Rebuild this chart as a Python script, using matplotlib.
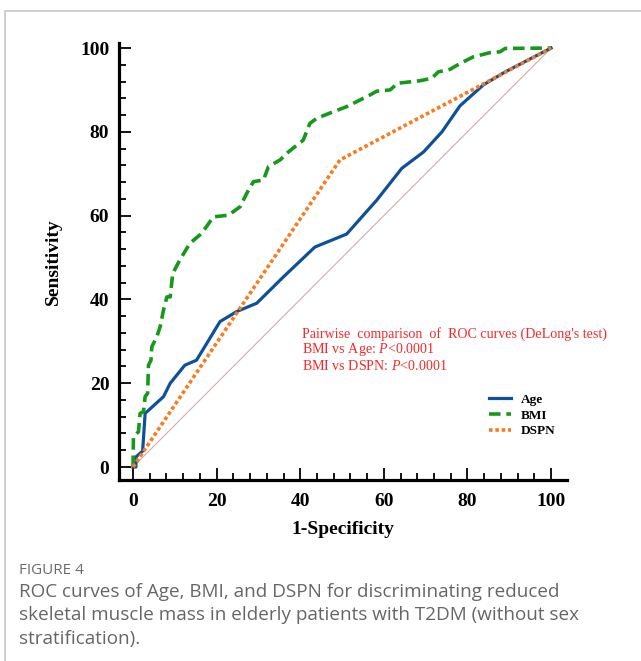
import matplotlib
matplotlib.use("Agg")
import matplotlib.pyplot as plt
from matplotlib.patches import Rectangle
from matplotlib.ticker import MultipleLocator

plt.rcParams["mathtext.fontset"] = "custom"
plt.rcParams["mathtext.rm"] = "Liberation Serif"
plt.rcParams["mathtext.it"] = "Liberation Serif:italic"

# ---- data ----
age_x = [0, 0.7, 0.7, 2.3, 2.9, 7.3, 8.9, 12.4, 15.2, 20.8, 24.8, 29.6, 36.0, 43.5, 51.1, 58.3, 64.3, 69.5, 73.9, 78.2, 83.8, 89.0, 100]
age_y = [0, 0, 2.4, 3.8, 12.8, 16.8, 20.0, 24.3, 25.5, 34.7, 37.1, 39.1, 45.4, 52.5, 55.6, 63.7, 71.3, 75.2, 80.0, 86.2, 91.2, 94.3, 100]

bmi_x = [0, 0.1, 1.3, 1.7, 2.5, 2.9, 3.5, 3.7, 4.3, 4.5, 5.7, 6.5, 7.3, 8.1, 8.9, 9.5, 11.2, 13.6, 16.0, 17.6, 19.2, 22.8,
         25.6, 27.2, 28.8, 31.2, 32.4, 35.2, 36.8, 38.8, 40.7, 42.3, 43.9, 47.9, 51.1, 53.5, 56.7, 58.3, 61.5, 63.3,
         68.7, 71.5, 73.0, 75.8, 78.2, 81.4, 85.4, 87.8, 89.0, 100]
bmi_y = [0, 7.2, 8.4, 12.8, 13.2, 16.8, 17.6, 24.3, 25.5, 28.7, 31.1, 33.5, 37.5, 40.6, 40.6, 46.2, 49.4, 53.4, 55.4, 57.4, 59.7, 60.1,
         62.1, 65.3, 68.1, 68.5, 71.7, 73.3, 74.9, 76.5, 78.0, 82.0, 83.2, 84.8, 86.0, 87.2, 88.8, 89.7, 90.0, 91.6,
         92.2, 92.8, 94.3, 94.9, 96.3, 97.9, 98.9, 99.1, 99.9, 100]

dspn_x = [0, 49.5, 100]
dspn_y = [0, 73.3, 100]

diag = [0, 100]

series_labels = ["Age", "BMI", "DSPN"]
x_ticks = [0, 20, 40, 60, 80, 100]
y_ticks = [0, 20, 40, 60, 80, 100]

c_age = "#0f509b"
c_bmi = "#16991a"
c_dspn = "#f97b1f"
c_red = "#f52a2a"

W, H = 641, 661
fig = plt.figure(figsize=(W / 100, H / 100), dpi=100)

def fx(px):
    return px / W

def fy(py):
    return 1 - py / H

# frame
fig.patches.append(Rectangle((fx(4.5), fy(700)), 1.2, fy(11) - fy(700), transform=fig.transFigure,
                             fill=False, edgecolor="#cccccc", linewidth=1.3))

ax = fig.add_axes([fx(119), fy(480), fx(567) - fx(119), fy(43) - fy(480)])
ax.set_xlim(-3.35, 103.8)
ax.set_ylim(-3.1, 101.2)

ax.plot(diag, diag, color="#d9a9a9", lw=0.8, zorder=1)
l_age, = ax.plot(age_x, age_y, color=c_age, lw=2.3, solid_joinstyle="round", zorder=3)
l_bmi, = ax.plot(bmi_x, bmi_y, color=c_bmi, lw=2.6, linestyle=(0, (3.2, 1.6)), zorder=4)
l_dspn, = ax.plot(dspn_x, dspn_y, color=c_dspn, lw=2.6, linestyle=(0, (1.0, 0.75)), zorder=5)

for s in ["top", "right"]:
    ax.spines[s].set_visible(False)
for s in ["left", "bottom"]:
    ax.spines[s].set_linewidth(2.3)

ax.set_xticks(x_ticks)
ax.set_yticks(y_ticks)
ax.set_xticks([v for v in range(0, 101, 4) if v % 20], minor=True)
ax.set_yticks([v for v in range(0, 101, 4) if v % 20], minor=True)
ax.tick_params(which="major", direction="in", length=8.5, width=1.3, pad=7)
ax.tick_params(which="minor", direction="in", length=5, width=1.3)
ax.tick_params(axis="x", which="major", pad=9)

tick_font = dict(family="Liberation Serif", weight="bold", size=14)
ax.set_xticklabels([str(v) for v in x_ticks], fontdict=tick_font)
ax.set_yticklabels([str(v) for v in y_ticks], fontdict=tick_font)

ax.set_xlabel("1-Specificity", family="Liberation Serif", weight="bold", size=14, labelpad=8)
ax.set_ylabel("Sensitivity", family="Liberation Serif", weight="bold", size=14, labelpad=13)

# annotation text
red_font = dict(family="Liberation Serif", size=10.1, color=c_red, va="center", ha="left")
fig.text(fx(302), fy(334), "Pairwise  comparison  of  ROC curves (DeLong's test)", **red_font)
fig.text(fx(302), fy(350), "BMI vs Age: $\\it{P}$<0.0001", **red_font)
fig.text(fx(302), fy(366), "BMI vs DSPN: $\\it{P}$<0.0001", **red_font)

leg = ax.legend([l_age, l_bmi, l_dspn], series_labels, loc="upper left",
                bbox_to_anchor=(fx(477), fy(382)), bbox_transform=fig.transFigure,
                frameon=False, handlelength=1.7, handletextpad=0.7, labelspacing=0.25,
                prop=dict(family="Liberation Serif", weight="bold", size=9.5))

# caption
fig.text(fx(19), fy(571), "FIGURE 4", family="Open Sans", size=11, color="#6b6b6b", va="center", ha="left")
cap_lines = ["ROC curves of Age, BMI, and DSPN for discriminating reduced",
             "skeletal muscle mass in elderly patients with T2DM (without sex",
             "stratification)."]
for i, t in enumerate(cap_lines):
    fig.text(fx(19), fy(592 + 23.5 * i), t, family="Open Sans", size=13.6, color="#666666", va="center", ha="left")

fig.savefig("out.png", dpi=100)
